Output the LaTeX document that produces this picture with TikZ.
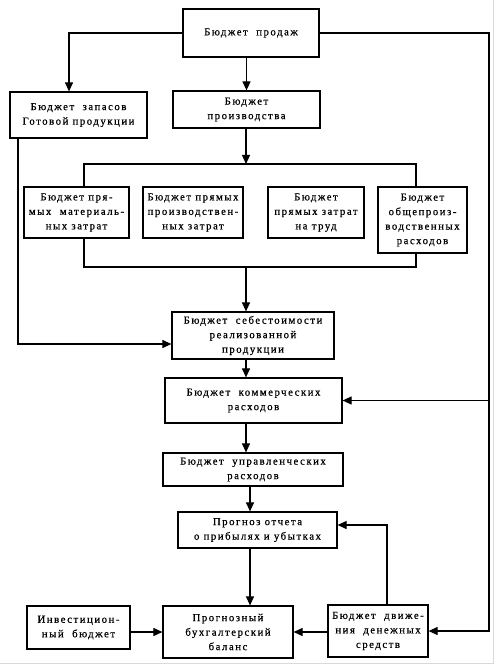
\documentclass[tikz,border=0pt]{standalone}
\usepackage{fontspec}
\setmainfont{Liberation Serif}[LetterSpace=14,FakeBold=0.6]
\usetikzlibrary{arrows.meta}
\begin{document}
\begin{tikzpicture}[x=1pt,y=-1pt,
  bx/.style={draw,line width=1.2pt,rectangle,inner sep=1pt,align=center,
    font=\fontsize{10.8}{14.5}\selectfont},
  ln/.style={line width=1.1pt},
  arr/.style={line width=1.1pt,-{Triangle[length=9pt,width=8pt]}}]
\useasboundingbox (0,0) rectangle (496,668);
\fill[white] (0,0) rectangle (496,668);
\draw[black!15,line width=1pt] (493,0) -- (493,663) -- (0,663);
% boxes
\node[bx,minimum width=136pt,minimum height=48pt] (sales) at (251,33) {Бюджет~~продаж};
\node[bx,minimum width=137pt,minimum height=46pt] (stock) at (78.5,115) {Бюджет~~запасов\\Готовой продукции};
\node[bx,minimum width=147pt,minimum height=37pt] (prod) at (246.5,109.5) {Бюджет\\производства};
\node[bx,minimum width=105pt,minimum height=51pt] (b1) at (76.5,212.5) {Бюджет пря-\\мых~~материаль-\\ных затрат};
\node[bx,minimum width=100pt,minimum height=51pt] (b2) at (193,212.5) {Бюджет прямых\\производствен-\\ных затрат};
\node[bx,minimum width=96pt,minimum height=51pt] (b3) at (316,212.5) {Бюджет\\прямых затрат\\на труд};
\node[bx,minimum width=89pt,minimum height=66pt] (b4) at (422.5,220) {Бюджет\\общепроиз-\\водственных\\расходов};
\node[bx,minimum width=162pt,minimum height=47pt] (cost) at (253,335.5) {Бюджет~~себестоимости\\реализованной\\продукции};
\node[bx,minimum width=177pt,minimum height=45pt] (comm) at (253.5,400.5) {Бюджет~~коммерческих\\расходов};
\node[bx,minimum width=180pt,minimum height=33pt] (mgmt) at (253,469.5) {Бюджет~~управленческих\\расходов};
\node[bx,minimum width=159pt,minimum height=36pt] (pl) at (257.5,530) {Прогноз отчета\\о прибылях и убытках};
\node[bx,minimum width=130pt,minimum height=52pt] (bal) at (228,632) {Прогнозный\\бухгалтерский\\баланс};
\node[bx,minimum width=103pt,minimum height=43pt] (inv) at (78.5,627.5) {Инвестицион-\\ный~~бюджет};
\node[bx,minimum width=100pt,minimum height=52pt] (cash) at (378,631) {Бюджет~~движе-\\ния~~денежных\\средств};
% helper coordinates
\coordinate (rt) at (489,33);
\coordinate (tl) at (84,164);
\coordinate (tr) at (416,164);
\coordinate (tm) at (246,164);
\coordinate (bl) at (84,267);
\coordinate (br) at (416,267);
\coordinate (bm) at (246,267);
\coordinate (pm) at (246,0);
% connectors
\draw[arr] (sales.west) -| ([xshift=-9.5pt]stock.north);
\draw[arr] (prod.north |- sales.south) -- (prod.north);
\draw[arr] (sales.east) -- (rt) |- (comm.east);
\draw[arr] (rt) |- (cash.east);
\draw[arr] (tm |- prod.south) -- (tm);
\draw[ln] (b1.north -| tl) -- (tl) -- (tr) -- (b4.north -| tr);
\draw[ln] (b1.south -| bl) -- (bl) -- (br) -- (b4.south -| br);
\draw[arr] (bm) -- (bm |- cost.north);
\draw[arr] ([xshift=-60.5pt]stock.south) |- ([yshift=-8.5pt]cost.west);
\draw[arr] (pm |- cost.south) -- (pm |- comm.north);
\draw[arr] (pm |- comm.south) -- (pm |- mgmt.north);
\draw[arr] ([xshift=-3pt]mgmt.south) -- ([xshift=-7.5pt]pl.north);
\draw[arr] ([xshift=-7.5pt]pl.south) -- ([xshift=22pt]bal.north);
\draw[arr] (inv.east |- bal.west) -- (bal.west);
\draw[arr] (cash.west |- bal.east) -- (bal.east);
\draw[arr] ([xshift=9pt]cash.north) |- ([yshift=5pt]pl.east);
\end{tikzpicture}
\end{document}
